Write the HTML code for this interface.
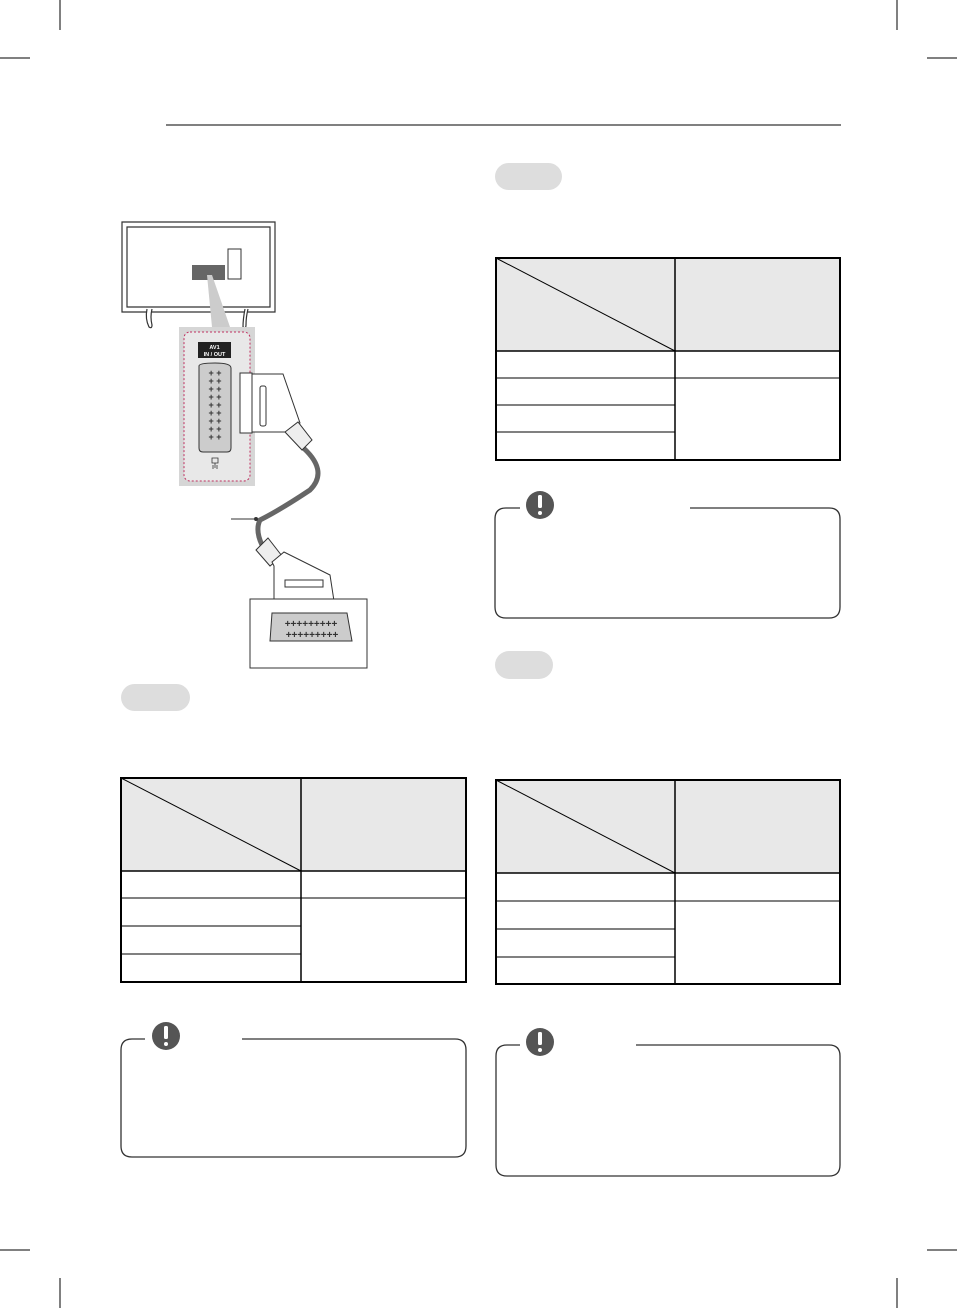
<!DOCTYPE html>
<html><head><style>body{margin:0;background:#fff}svg{display:block}</style></head><body>
<svg width="957" height="1308" viewBox="0 0 957 1308" xmlns="http://www.w3.org/2000/svg" font-family="Liberation Sans, sans-serif">
<g stroke="#000" stroke-width="1">
<line x1="60" y1="0" x2="60" y2="30"/><line x1="897" y1="0" x2="897" y2="30"/>
<line x1="0" y1="58" x2="30" y2="58"/><line x1="927" y1="58" x2="957" y2="58"/>
<line x1="0" y1="1250" x2="30" y2="1250"/><line x1="927" y1="1250" x2="957" y2="1250"/>
<line x1="60" y1="1278" x2="60" y2="1308"/><line x1="897" y1="1278" x2="897" y2="1308"/>
<line x1="166" y1="125" x2="841" y2="125"/>
</g>
<!-- pills -->
<rect x="495" y="163" width="67" height="27" rx="13.5" fill="#ddd"/>
<rect x="495" y="651" width="58" height="28" rx="14" fill="#ddd"/>
<rect x="121" y="684" width="69" height="27" rx="13.5" fill="#ddd"/>
<!-- TV -->
<g stroke="#333" fill="none" stroke-width="1.2">
<path d="M122 222 H275 V312 H122 Z"/>
<path d="M127 227 H270 V307 H127 Z"/>
<path d="M147 309 q-2 10 2 18 q3 2 3 -2 q-2-8 0-16" fill="#fff"/>
<path d="M245 309 q-2 10 -2 18 q3 2 3 -2 q0-8 2-16" fill="#fff"/>
</g>
<rect x="228" y="249" width="13" height="30" fill="#fff" stroke="#333"/>
<rect x="192" y="265" width="33" height="15" fill="#666"/>
<polygon points="207,275 212,275 230,327 212,327" fill="#ccc"/>
<rect x="179" y="327" width="76" height="159" fill="#d6d6d6"/>
<rect x="184" y="332" width="66" height="149" rx="6" fill="#e8e8e8" stroke="#c03060" stroke-width="1" stroke-dasharray="2,2"/>
<rect x="198" y="342" width="33" height="16" fill="#222"/>
<text x="214.5" y="349" font-size="5.5" fill="#fff" text-anchor="middle" font-weight="bold">AV1</text>
<text x="214.5" y="356" font-size="5.5" fill="#fff" text-anchor="middle" font-weight="bold">IN / OUT</text>
<path d="M199 366 Q199 363 215 363 Q231 363 231 368 V448 Q231 452 227 452 H203 Q199 452 199 448 Z" fill="#ccc" stroke="#333"/>
<text x="215" y="376" font-size="9" text-anchor="middle" fill="#333" font-weight="bold"><tspan x="215" dy="0">+ +</tspan><tspan x="215" dy="8">+ +</tspan><tspan x="215" dy="8">+ +</tspan><tspan x="215" dy="8">+ +</tspan><tspan x="215" dy="8">+ +</tspan><tspan x="215" dy="8">+ +</tspan><tspan x="215" dy="8">+ +</tspan><tspan x="215" dy="8">+ +</tspan><tspan x="215" dy="8">+ +</tspan></text>
<path d="M212 458 h6 v5 h-6z M215 463 v5 M213 465 v4 M217 465 v4" stroke="#333" fill="none" stroke-width="0.8"/>
<!-- cable -->
<path d="M300 445 Q330 470 310 490 Q280 510 260 520 Q255 530 262 545" stroke="#666" stroke-width="5" fill="none"/>
<line x1="231" y1="519" x2="255" y2="519" stroke="#333" stroke-width="1"/>
<circle cx="256" cy="519" r="2" fill="#333"/>
<!-- top connector -->
<rect x="240" y="373" width="12" height="60" fill="#fff" stroke="#333"/>
<path d="M252 374 H283 L300 423 L290 432 H252 Z" fill="#fff" stroke="#333"/>
<rect x="260" y="386" width="6" height="40" rx="2" fill="#fff" stroke="#333"/>
<path d="M285 432 L298 422 L312 440 L302 450 Z" fill="#eee" stroke="#333"/>
<!-- bottom connector -->
<path d="M256 550 L268 538 L282 556 L270 566 Z" fill="#eee" stroke="#333"/>
<path d="M272 562 L284 552 L330 575 L334 601 H274 V566 Z" fill="#fff" stroke="#333"/>
<rect x="285" y="580" width="38" height="7" fill="#fff" stroke="#333"/>
<rect x="278" y="601" width="52" height="8" fill="#fff" stroke="#333"/>
<rect x="250" y="599" width="117" height="69" fill="#fff" stroke="#333"/>
<path d="M272 613 H347 L352 641 H270 Z" fill="#ccc" stroke="#333"/>
<text x="311" y="627" font-size="10" text-anchor="middle" fill="#333" font-weight="bold">+++++++++</text>
<text x="312" y="638" font-size="10" text-anchor="middle" fill="#333" font-weight="bold">+++++++++</text>
<!-- tables -->
<g id="t1">
<rect x="496" y="258" width="179" height="93" fill="#e8e8e8"/><rect x="675" y="258" width="165" height="93" fill="#e8e8e8"/>
<g stroke="#000" fill="none">
<rect x="496" y="258" width="344" height="202" stroke-width="2"/>
<line x1="675" y1="258" x2="675" y2="460" stroke-width="1.5"/>
<line x1="496" y1="351" x2="840" y2="351" stroke-width="1.5"/>
<line x1="496" y1="378" x2="840" y2="378"/>
<line x1="496" y1="405" x2="675" y2="405"/>
<line x1="496" y1="432" x2="675" y2="432"/>
<line x1="496" y1="258" x2="675" y2="351"/>
</g></g>
<rect x="121" y="778" width="180" height="93" fill="#e8e8e8"/><rect x="301" y="778" width="165" height="93" fill="#e8e8e8"/>
<g stroke="#000" fill="none">
<rect x="121" y="778" width="345" height="204" stroke-width="2"/>
<line x1="301" y1="778" x2="301" y2="982" stroke-width="1.5"/>
<line x1="121" y1="871" x2="466" y2="871" stroke-width="1.5"/>
<line x1="121" y1="898" x2="466" y2="898"/>
<line x1="121" y1="926" x2="301" y2="926"/>
<line x1="121" y1="954" x2="301" y2="954"/>
<line x1="121" y1="778" x2="301" y2="871"/>
</g>
<rect x="496" y="780" width="179" height="93" fill="#e8e8e8"/><rect x="675" y="780" width="165" height="93" fill="#e8e8e8"/>
<g stroke="#000" fill="none">
<rect x="496" y="780" width="344" height="204" stroke-width="2"/>
<line x1="675" y1="780" x2="675" y2="984" stroke-width="1.5"/>
<line x1="496" y1="873" x2="840" y2="873" stroke-width="1.5"/>
<line x1="496" y1="901" x2="840" y2="901"/>
<line x1="496" y1="929" x2="675" y2="929"/>
<line x1="496" y1="957" x2="675" y2="957"/>
<line x1="496" y1="780" x2="675" y2="873"/>
</g>
<!-- notes -->
<g stroke="#333" fill="none" stroke-width="1.3">
<path d="M520 508 H506 Q495 508 495 519 V607 Q495 618 506 618 H829 Q840 618 840 607 V519 Q840 508 829 508 H690"/>
<path d="M145 1039 H132 Q121 1039 121 1050 V1146 Q121 1157 132 1157 H455 Q466 1157 466 1146 V1050 Q466 1039 455 1039 H242"/>
<path d="M520 1045 H507 Q496 1045 496 1056 V1165 Q496 1176 507 1176 H829 Q840 1176 840 1165 V1056 Q840 1045 829 1045 H636"/>
</g>
<g fill="#555">
<circle cx="540" cy="505" r="14"/><circle cx="166" cy="1036" r="14"/><circle cx="540" cy="1042" r="14"/>
</g>
<g fill="#fff">
<rect x="538" y="495" width="4" height="13" rx="1.5"/><circle cx="540" cy="513" r="2"/>
<rect x="164" y="1026" width="4" height="13" rx="1.5"/><circle cx="166" cy="1044" r="2"/>
<rect x="538" y="1032" width="4" height="13" rx="1.5"/><circle cx="540" cy="1050" r="2"/>
</g>
</svg>
</body></html>
